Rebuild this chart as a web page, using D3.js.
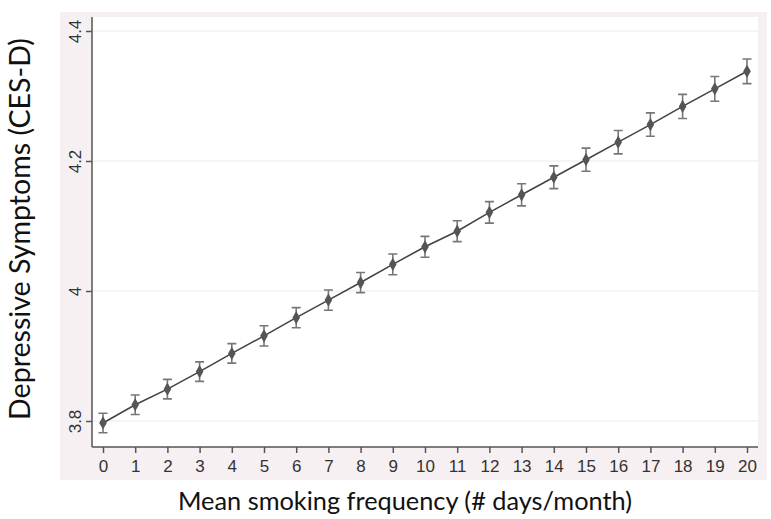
<!DOCTYPE html>
<html><head><meta charset="utf-8">
<script src="https://cdn.jsdelivr.net/npm/d3@7"></script>
<style>body{margin:0;background:#fff}</style>
</head><body>
<svg id="c" width="771" height="519"></svg>
<script>
const xValues = [0,1,2,3,4,5,6,7,8,9,10,11,12,13,14,15,16,17,18,19,20];
const means = [3.797,3.825,3.849,3.876,3.904,3.931,3.959,3.986,4.013,4.041,4.068,4.092,4.121,4.148,4.175,4.202,4.229,4.256,4.284,4.311,4.338];
const ciHalf = [0.015,0.015,0.015,0.015,0.015,0.0155,0.0155,0.0155,0.0155,0.016,0.016,0.016,0.0165,0.017,0.0175,0.0178,0.018,0.018,0.0185,0.019,0.019];
const yTicks = [3.8,4,4.2,4.4];
const yTickLabels = ["3.8","4","4.2","4.4"];
const xTitle = "Mean smoking frequency (# days/month)";
const yTitle = "Depressive Symptoms (CES-D)";

const svg = d3.select("#c");
const L = 92, R = 758, T = 17, B = 447;
svg.append("rect").attr("x",60).attr("y",12).attr("width",707).attr("height",468).attr("fill","#f6f0f2");
svg.append("rect").attr("x",L).attr("y",T).attr("width",R-L).attr("height",B-T).attr("fill","#ffffff");

const x = d3.scaleLinear().domain([0,20]).range([103,747]);
const y = d3.scaleLinear().domain([3.8,4.4]).range([421,31]);

// grid
svg.append("g").selectAll("line").data(yTicks).join("line")
  .attr("x1",L).attr("x2",R).attr("y1",d=>y(d)).attr("y2",d=>y(d))
  .attr("stroke","#ececec").attr("stroke-width",1.2);

// y axis
const ya = svg.append("g").attr("transform",`translate(${L},0)`)
  .call(d3.axisLeft(y).tickValues(yTicks).tickFormat((d,i)=>yTickLabels[i]).tickSize(6).tickPadding(4));
ya.select(".domain").attr("d",`M0,${T}V${B}`).attr("stroke","#555").attr("stroke-width",1.5);
ya.selectAll(".tick line").attr("stroke","#555").attr("stroke-width",1.5);
ya.selectAll(".tick text").attr("transform","rotate(-90)").attr("x",0).attr("y",-11)
  .attr("dy","0").attr("text-anchor","middle")
  .style("font-family","Liberation Sans, Arial, sans-serif").style("font-size","17px").attr("fill","#333");

// x axis
const xa = svg.append("g").attr("transform",`translate(0,${B})`)
  .call(d3.axisBottom(x).tickValues(xValues).tickFormat(d3.format("d")).tickSize(6).tickPadding(7));
xa.select(".domain").attr("d",`M${L},0H${R}`).attr("stroke","#555").attr("stroke-width",1.5);
xa.selectAll(".tick line").attr("stroke","#555").attr("stroke-width",1.5);
xa.selectAll(".tick text").style("font-family","Liberation Sans, Arial, sans-serif").style("font-size","17px").attr("fill","#333");

// line
const pts = xValues.map((v,i)=>({x:v,m:means[i],h:ciHalf[i]}));
svg.append("path").datum(pts).attr("fill","none").attr("stroke","#444").attr("stroke-width",1.6)
  .attr("d",d3.line().x(d=>x(d.x)).y(d=>y(d.m)));

// error bars
const eb = svg.append("g").attr("stroke","#777").attr("stroke-width",1.6).attr("fill","none");
eb.selectAll("path").data(pts).join("path")
  .attr("d",d=>{const cx=x(d.x),y1=y(d.m+d.h),y2=y(d.m-d.h);
    return `M${cx-4.5},${y1}H${cx+4.5}M${cx},${y1}V${y2}M${cx-4.5},${y2}H${cx+4.5}`;});

// markers
svg.append("g").selectAll("path").data(pts).join("path")
  .attr("transform",d=>`translate(${x(d.x)},${y(d.m)})`)
  .attr("d",d3.symbol(d3.symbolDiamond,50))
  .attr("fill","#555");

// titles
const xt = svg.append("text").attr("x",405).attr("y",510).attr("text-anchor","middle")
  .style("font-family","Lato, Carlito, sans-serif").style("font-size","22px").attr("fill","#111").text(xTitle);
let w = xt.node().getComputedTextLength();
xt.style("font-size",(22*454/w).toFixed(2)+"px");

const yt = svg.append("text").attr("transform","translate(30,229) rotate(-90)").attr("text-anchor","middle")
  .style("font-family","Lato, Carlito, sans-serif").style("font-size","22px").attr("fill","#111").text(yTitle);
w = yt.node().getComputedTextLength();
yt.style("font-size",(22*382/w).toFixed(2)+"px");
</script>
</body></html>
